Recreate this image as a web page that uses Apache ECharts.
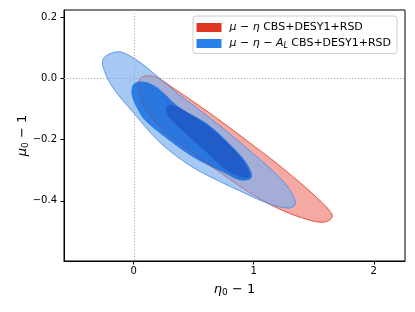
<!DOCTYPE html>
<html><head><meta charset="utf-8">
<script src="https://cdn.jsdelivr.net/npm/echarts@6/dist/echarts.min.js"></script>
<style>html,body{margin:0;padding:0;background:#fff}#c{width:415px;height:312px}</style>
</head><body><div id="c"></div>
<script>
// Tick values and labels
const xTicks = [0, 1, 2];
const xTickLabels = ['0', '1', '2'];
const yTicks = [-0.4, -0.2, 0.0, 0.2];
const yTickLabels = ['\u22120.4', '\u22120.2', '0.0', '0.2'];
const seriesNames = ['\u03bc \u2212 \u03b7 CBS+DESY1+RSD', '\u03bc \u2212 \u03b7 \u2212 A_L CBS+DESY1+RSD'];
// Reference (GR) values marked by the dotted lines
const refPoint = [0, 0];

// Contour outlines (eta0-1, mu0-1)
const red2Sigma = [[0.040,-0.025],[0.048,-0.004],[0.078,0.006],[0.119,0.009],[0.194,0.003],[0.344,-0.035],[0.619,-0.109],[0.761,-0.150],[0.886,-0.186],[1.011,-0.224],[1.161,-0.268],[1.428,-0.355],[1.569,-0.406],[1.636,-0.435],[1.653,-0.452],[1.619,-0.466],[1.553,-0.470],[1.444,-0.461],[1.261,-0.435],[1.053,-0.394],[0.761,-0.319],[0.486,-0.242],[0.236,-0.165],[0.094,-0.097],[0.053,-0.055]];
const red1Sigma = [[0.270,-0.102],[0.290,-0.087],[0.345,-0.090],[0.428,-0.107],[0.619,-0.155],[0.803,-0.219],[0.911,-0.268],[0.961,-0.304],[0.961,-0.322],[0.903,-0.324],[0.761,-0.297],[0.619,-0.245],[0.453,-0.187],[0.345,-0.148],[0.285,-0.122]];
const blue2Sigma = [[-0.248,0.067],[-0.181,0.083],[-0.098,0.086],[0.053,0.053],[0.194,0.008],[0.344,-0.042],[0.619,-0.124],[0.886,-0.209],[1.136,-0.294],[1.286,-0.356],[1.348,-0.409],[1.294,-0.424],[1.111,-0.407],[0.886,-0.368],[0.761,-0.345],[0.486,-0.289],[0.219,-0.209],[0.003,-0.114],[-0.181,-0.025],[-0.256,0.040]];
const blue1Sigma = [[-0.014,-0.029],[0.011,-0.015],[0.061,-0.010],[0.153,-0.019],[0.244,-0.045],[0.369,-0.091],[0.619,-0.150],[0.819,-0.222],[0.936,-0.274],[0.986,-0.314],[0.969,-0.330],[0.886,-0.333],[0.761,-0.310],[0.486,-0.255],[0.219,-0.179],[0.094,-0.137],[0.028,-0.097],[-0.014,-0.058]];

function polySeries(name, pts, fill, stroke, lw) {
  return {
    type: 'custom', name: name, silent: true,
    coordinateSystem: 'cartesian2d',
    data: pts,
    encode: { x: 0, y: 1 },
    renderItem: function (params, api) {
      if (params.dataIndex !== 0) return null;
      const p = pts.map(function (d) { return api.coord(d); });
      return {
        type: 'polygon',
        shape: { points: p, smooth: 0.35 },
        style: { fill: fill, stroke: stroke, lineWidth: lw }
      };
    }
  };
}

const labelFmt = {};
labelFmt[seriesNames[0]] = '{p|}{i|\u03bc} \u2212 {i|\u03b7} CBS+DESY1+RSD';
labelFmt[seriesNames[1]] = '{p|}{i|\u03bc} \u2212 {i|\u03b7} \u2212 {i|A}{s|L} CBS+DESY1+RSD';

const FONT = 'DejaVu Sans';
const chart = echarts.init(document.getElementById('c'), null, { renderer: 'canvas' });
chart.setOption({
  animation: false,
  backgroundColor: '#ffffff',
  grid: { left: 64, right: 10, top: 10, bottom: 51, show: true, borderColor: '#000', borderWidth: 1, backgroundColor: 'transparent' },
  xAxis: {
    type: 'value', min: -0.58, max: 2.26,
    name: '{i|\u03b7}{s|0} \u2212 1', nameLocation: 'middle', nameGap: 21, nameMoveOverlap: false,
    nameTextStyle: { fontFamily: FONT, fontSize: 13, color: '#000',
      rich: { i: { fontFamily: FONT, fontStyle: 'italic', fontSize: 13 }, s: { fontFamily: FONT, fontSize: 9, padding: [6, 0, 0, 0] } } },
    axisLine: { show: true, onZero: false, lineStyle: { color: '#000', width: 1 } },
    axisTick: { show: true, length: 3.5, customValues: xTicks, lineStyle: { color: '#000' } },
    axisLabel: { customValues: xTicks, margin: 5, fontFamily: FONT, fontSize: 10, color: '#000',
      formatter: function (v) { const k = xTicks.indexOf(v); return k >= 0 ? xTickLabels[k] : ''; } },
    splitLine: { show: false }
  },
  yAxis: {
    type: 'value', min: -0.597, max: 0.224,
    name: '{i|\u03bc}{s|0} \u2212 1', nameLocation: 'middle', nameGap: 34, nameRotate: 90, nameMoveOverlap: false,
    nameTextStyle: { fontFamily: FONT, fontSize: 13, color: '#000',
      rich: { i: { fontFamily: FONT, fontStyle: 'italic', fontSize: 13 }, s: { fontFamily: FONT, fontSize: 9, padding: [6, 0, 0, 0] } } },
    axisLine: { show: true, onZero: false, lineStyle: { color: '#000', width: 1 } },
    axisTick: { show: true, length: 3.5, customValues: yTicks, lineStyle: { color: '#000' } },
    axisLabel: { customValues: yTicks, margin: 7, fontFamily: FONT, fontSize: 10, color: '#000',
      formatter: function (v) { for (let k = 0; k < yTicks.length; k++) { if (Math.abs(yTicks[k] - v) < 1e-9) return yTickLabels[k]; } return ''; } },
    splitLine: { show: false }
  },
  legend: {
    orient: 'vertical', left: 193, top: 16, icon: 'rect', itemWidth: 25, itemHeight: 9, itemGap: 5,
    padding: [6, 6, 4, 3.5], borderColor: '#cccccc', borderWidth: 1, borderRadius: 3,
    backgroundColor: 'rgba(255,255,255,0.8)', selectedMode: false,
    data: [
      { name: seriesNames[0], itemStyle: { color: '#e03424' } },
      { name: seriesNames[1], itemStyle: { color: '#2a80ea' } }
    ],
    formatter: function (n) { return labelFmt[n]; },
    textStyle: { fontFamily: FONT, fontSize: 11, color: '#000',
      rich: { p: { width: 3 }, i: { fontFamily: FONT, fontStyle: 'italic', fontSize: 11 }, s: { fontFamily: FONT, fontStyle: 'italic', fontSize: 8, padding: [4, 0, 0, 0] } } }
  },
  series: [
    { type: 'custom', name: 'ref', silent: true, coordinateSystem: 'cartesian2d',
      data: [refPoint], encode: { x: 0, y: 1 },
      renderItem: function (params, api) {
        const p = api.coord([api.value(0), api.value(1)]);
        const cs = params.coordSys;
        const st = { stroke: '#a6a6a6', lineWidth: 1, lineDash: [1.2, 1.8] };
        return { type: 'group', children: [
          { type: 'line', shape: { x1: Math.round(p[0]) + 0.5, y1: cs.y, x2: Math.round(p[0]) + 0.5, y2: cs.y + cs.height }, style: st },
          { type: 'line', shape: { x1: cs.x, y1: Math.round(p[1]) + 0.5, x2: cs.x + cs.width, y2: Math.round(p[1]) + 0.5 }, style: st }
        ] };
      } },
    polySeries(seriesNames[0], red2Sigma, '#f4aaa2', '#e8705f', 1),
    polySeries(seriesNames[1], blue2Sigma, 'rgba(122,175,239,0.67)', 'rgba(80,145,232,0.9)', 1),
    polySeries(seriesNames[1], blue1Sigma, 'rgba(0,100,225,0.75)', null, 0),
    polySeries(seriesNames[0], red1Sigma, 'rgba(20,50,160,0.36)', null, 0),
    polySeries(seriesNames[0], red2Sigma, 'none', 'rgba(224,52,36,0.4)', 0.8)
  ]
});
</script></body></html>
